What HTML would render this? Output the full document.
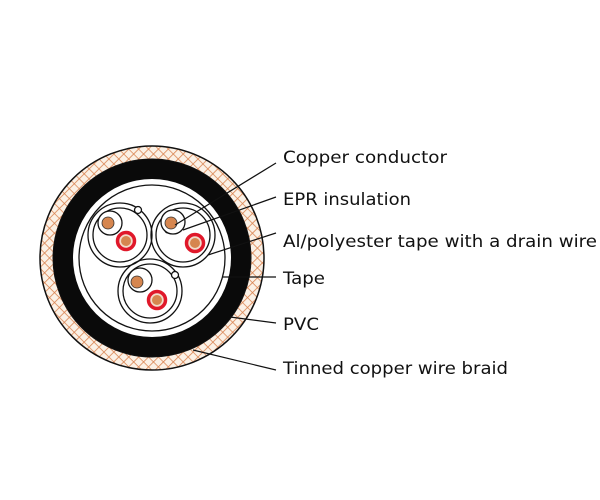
<!DOCTYPE html>
<html><head><meta charset="utf-8"><style>
html,body{margin:0;padding:0;background:#fff;width:600px;height:500px;overflow:hidden}
svg{display:block}
text{font-family:"DejaVu Sans","Liberation Sans",sans-serif;font-size:17px;fill:#111}
</style></head><body>
<svg width="600" height="500" viewBox="0 0 600 500">
<defs>
<pattern id="br" width="7" height="7" patternUnits="userSpaceOnUse" patternTransform="rotate(45)">
<rect width="7" height="7" fill="#fbf1e6"/>
<path d="M0 0H7M0 0V7" stroke="#d98350" stroke-width="1.6"/>
</pattern>
</defs>
<circle cx="152" cy="258" r="112" fill="url(#br)" stroke="#111" stroke-width="1.5"/>
<circle cx="152" cy="258" r="99" fill="#0a0a0a" stroke="#111" stroke-width="1"/>
<circle cx="152" cy="258" r="79" fill="#fff"/>
<circle cx="152" cy="258" r="73" fill="none" stroke="#111" stroke-width="1.3"/>
<g fill="none" stroke="#111" stroke-width="1.3">
<circle cx="120" cy="235" r="32"/><circle cx="120" cy="235" r="27"/>
<circle cx="183" cy="235" r="32"/><circle cx="183" cy="235" r="27"/>
<circle cx="150" cy="291" r="32"/><circle cx="150" cy="291" r="27"/>
<circle cx="138" cy="210" r="3.5" fill="#fff"/>
<circle cx="168" cy="230" r="3" fill="#fff"/>
<circle cx="175" cy="275" r="3.5" fill="#fff"/>
<circle cx="110" cy="223" r="12" fill="#fff"/>
<circle cx="173" cy="222" r="12" fill="#fff"/>
<circle cx="140" cy="280" r="12" fill="#fff"/>
</g>
<g fill="#d6864f" stroke="#333" stroke-width="0.8">
<circle cx="108" cy="223" r="6"/><circle cx="171" cy="223" r="6"/><circle cx="137" cy="282" r="6"/>
</g>
<g fill="#f2dccb" stroke="#e0182a" stroke-width="3.5">
<circle cx="126" cy="241" r="8.5"/><circle cx="195" cy="243" r="8.5"/><circle cx="157" cy="300" r="8.5"/>
</g>
<g fill="#d6864f" stroke="none">
<circle cx="126" cy="241" r="5"/><circle cx="195" cy="243" r="5"/><circle cx="157" cy="300" r="5"/>
</g>
<g stroke="#111" stroke-width="1.2" fill="none">
<line x1="175" y1="225" x2="276" y2="163"/>
<line x1="183" y1="230" x2="276" y2="197"/>
<line x1="208" y1="255" x2="276" y2="233"/>
<line x1="223" y1="277" x2="276" y2="277"/>
<line x1="230" y1="317" x2="276" y2="323"/>
<line x1="193" y1="350" x2="276" y2="370"/>
</g>
<text x="283" y="163" textLength="164" lengthAdjust="spacingAndGlyphs">Copper conductor</text>
<text x="283" y="205" textLength="128" lengthAdjust="spacingAndGlyphs">EPR insulation</text>
<text x="283" y="247" textLength="314" lengthAdjust="spacingAndGlyphs">Al/polyester tape with a drain wire</text>
<text x="283" y="284" textLength="42" lengthAdjust="spacingAndGlyphs">Tape</text>
<text x="283" y="330" textLength="36" lengthAdjust="spacingAndGlyphs">PVC</text>
<text x="283" y="374" textLength="225" lengthAdjust="spacingAndGlyphs">Tinned copper wire braid</text>
</svg>
</body></html>
